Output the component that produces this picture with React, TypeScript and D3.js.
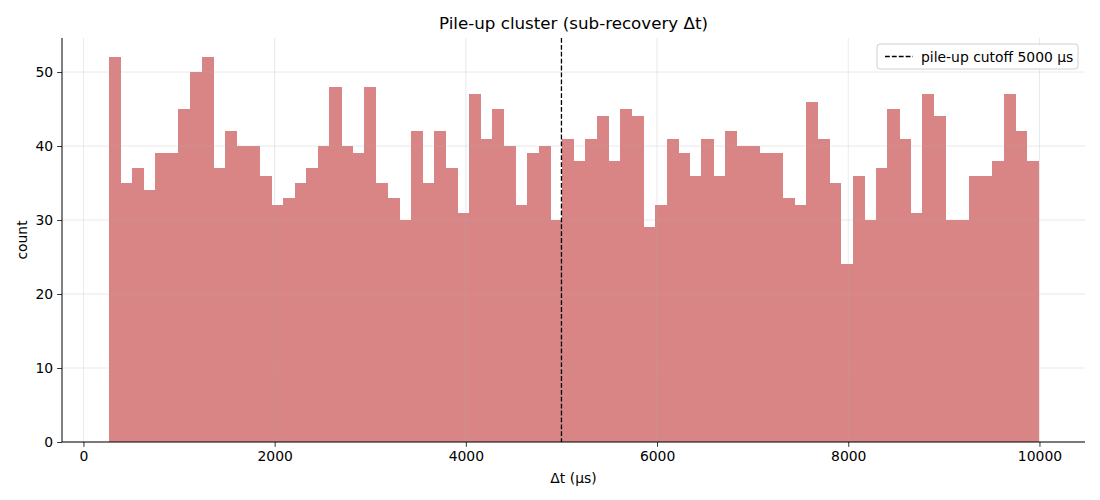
import React, { useEffect, useRef } from 'react';
import * as d3 from 'd3';

// histogram of Δt (µs), 80 equal bins from binStart to binEnd
const binStart = 262;
const binEnd = 9990;
const counts = [
  52, 35, 37, 34, 39, 39, 45, 50, 52, 37, 42, 40, 40, 36, 32, 33, 35, 37, 40, 48,
  40, 39, 48, 35, 33, 30, 42, 35, 42, 37, 31, 47, 41, 45, 40, 32, 39, 40, 30, 41,
  38, 41, 44, 38, 45, 44, 29, 32, 41, 39, 36, 41, 36, 42, 40, 40, 39, 39, 33, 32,
  46, 41, 35, 24, 36, 30, 37, 45, 41, 31, 47, 44, 30, 30, 36, 36, 38, 47, 42, 38,
];
const xTicks = [0, 2000, 4000, 6000, 8000, 10000];
const yTicks = [0, 10, 20, 30, 40, 50];
const cutoff = 5000;
const cutoffLabel = 'pile-up cutoff 5000 µs';
const title = 'Pile-up cluster (sub-recovery Δt)';

const W = 1100;
const H = 500;
const font = '"DejaVu Sans", sans-serif';

const App = () => {
  const ref = useRef(null);

  useEffect(() => {
    document.body.style.margin = '0';
    const margin = { top: 38, right: 15, bottom: 58, left: 62 };
    const width = W - margin.left - margin.right;
    const height = H - margin.top - margin.bottom;

    const svg = d3.select(ref.current);
    svg.selectAll('*').remove();

    const binW = (binEnd - binStart) / counts.length;
    const bins = counts.map((c, i) => ({ x0: binStart + i * binW, x1: binStart + (i + 1) * binW, c }));

    const pad = (binEnd - binStart) * 0.05;
    const x = d3.scaleLinear().domain([binStart - pad, binEnd + pad]).range([0, width]);
    const y = d3.scaleLinear().domain([0, d3.max(counts) * 1.05]).range([height, 0]);

    const g = svg.append('g').attr('transform', `translate(${margin.left},${margin.top})`);

    // bars (opaque so neighbouring bars don't show seams)
    g.append('g')
      .attr('shape-rendering', 'crispEdges')
      .selectAll('rect')
      .data(bins)
      .enter()
      .append('rect')
      .attr('x', (d) => x(d.x0))
      .attr('width', (d) => x(d.x1) - x(d.x0) + 0.5)
      .attr('y', (d) => y(d.c))
      .attr('height', (d) => height - y(d.c))
      .attr('fill', '#d98585');

    // grid, drawn faintly over the bars
    g.append('g')
      .selectAll('line.gx')
      .data(xTicks)
      .enter()
      .append('line')
      .attr('x1', (d) => x(d))
      .attr('x2', (d) => x(d))
      .attr('y1', 0)
      .attr('y2', height)
      .attr('stroke', '#b0b0b0')
      .attr('stroke-opacity', 0.35)
      .attr('stroke-width', 0.8);
    g.append('g')
      .selectAll('line.gy')
      .data(yTicks)
      .enter()
      .append('line')
      .attr('x1', 0)
      .attr('x2', width)
      .attr('y1', (d) => y(d))
      .attr('y2', (d) => y(d))
      .attr('stroke', '#b0b0b0')
      .attr('stroke-opacity', 0.35)
      .attr('stroke-width', 0.8);

    // cutoff line
    g.append('line')
      .attr('x1', x(cutoff))
      .attr('x2', x(cutoff))
      .attr('y1', 0)
      .attr('y2', height)
      .attr('stroke', '#000')
      .attr('stroke-width', 1.3)
      .attr('stroke-dasharray', '4.8,2.1');

    // axes
    const xAxis = g
      .append('g')
      .attr('transform', `translate(0,${height})`)
      .call(d3.axisBottom(x).tickValues(xTicks).tickSize(4.9).tickPadding(4).tickFormat(d3.format('d')));
    const yAxis = g
      .append('g')
      .call(d3.axisLeft(y).tickValues(yTicks).tickSize(4.9).tickPadding(4).tickFormat(d3.format('d')));
    [xAxis, yAxis].forEach((a) => {
      a.select('.domain').remove();
      a.selectAll('line').attr('stroke', '#000').attr('stroke-width', 0.8);
      a.selectAll('text').attr('fill', '#000').style('font-family', font).style('font-size', '13.9px');
    });
    g.append('line').attr('x1', 0).attr('x2', width).attr('y1', height).attr('y2', height).attr('stroke', '#000').attr('stroke-width', 1);
    g.append('line').attr('x1', 0).attr('x2', 0).attr('y1', 0).attr('y2', height).attr('stroke', '#000').attr('stroke-width', 1);

    // labels
    svg
      .append('text')
      .attr('x', margin.left + width / 2)
      .attr('y', 29)
      .attr('text-anchor', 'middle')
      .style('font-family', font)
      .style('font-size', '16.7px')
      .text(title);
    svg
      .append('text')
      .attr('x', margin.left + width / 2)
      .attr('y', 483)
      .attr('text-anchor', 'middle')
      .style('font-family', font)
      .style('font-size', '13.9px')
      .text('Δt (µs)');
    svg
      .append('text')
      .attr('transform', `translate(27,${margin.top + height / 2}) rotate(-90)`)
      .attr('text-anchor', 'middle')
      .style('font-family', font)
      .style('font-size', '13.9px')
      .text('count');

    // legend
    const lg = svg.append('g').attr('transform', 'translate(877,44)');
    lg.append('rect')
      .attr('width', 201)
      .attr('height', 25)
      .attr('rx', 3)
      .attr('fill', '#fff')
      .attr('fill-opacity', 0.8)
      .attr('stroke', '#d0d0d0');
    lg.append('line')
      .attr('x1', 8)
      .attr('x2', 36)
      .attr('y1', 12.5)
      .attr('y2', 12.5)
      .attr('stroke', '#000')
      .attr('stroke-width', 1.3)
      .attr('stroke-dasharray', '4.8,2.1');
    lg.append('text')
      .attr('x', 44)
      .attr('y', 17.5)
      .style('font-family', font)
      .style('font-size', '13.9px')
      .text(cutoffLabel);
  }, []);

  return <svg ref={ref} width={W} height={H} style={{ display: 'block', background: '#fff' }} />;
};

export default App;
